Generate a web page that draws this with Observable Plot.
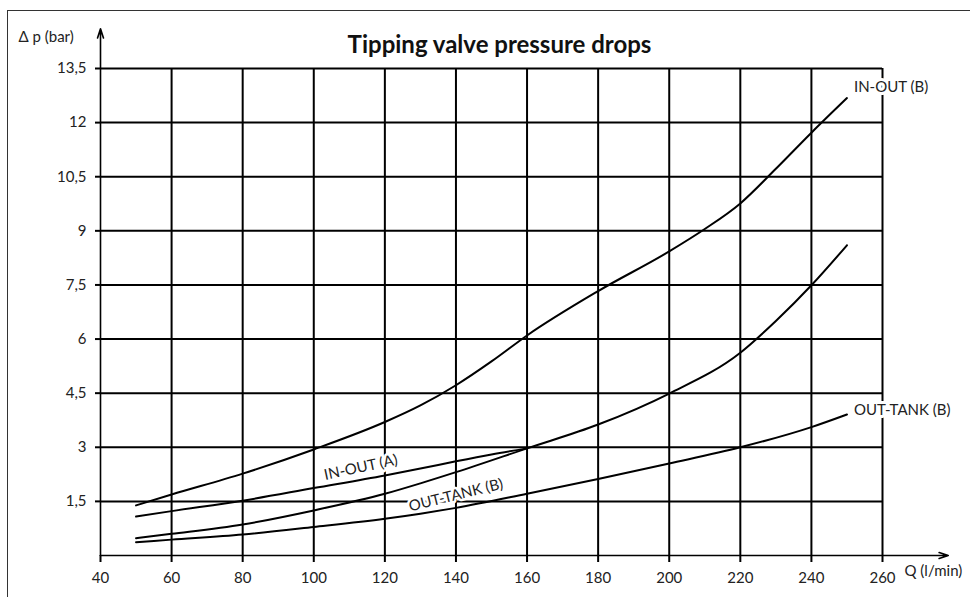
<!DOCTYPE html>
<html>
<head>
<meta charset="utf-8">
<script src="https://cdn.jsdelivr.net/npm/d3@7"></script>
<script src="https://cdn.jsdelivr.net/npm/@observablehq/plot@0.6"></script>
<style>
  html, body { margin: 0; padding: 0; background: white; }
  #wrap { position: relative; width: 970px; height: 597px; overflow: hidden; }
  #border { position: absolute; left: 7px; top: 10px; right: -10px; bottom: -10px;
            border-top: 1.5px solid #333; border-left: 1.5px solid #333; pointer-events: none; }
</style>
</head>
<body>
<div id="wrap"></div>
<script>
// ---- Data ----
const titleText = "Tipping valve pressure drops";
const yAxisLabel = "\u0394 p (bar)";
const xAxisLabel = "Q (l/min)";

const xTicks = [40, 60, 80, 100, 120, 140, 160, 180, 200, 220, 240, 260];
const yTicks = [1.5, 3, 4.5, 6, 7.5, 9, 10.5, 12, 13.5];

// IN-OUT (B)
const inOutB_q  = [50, 60, 80, 100, 120, 130, 140, 150, 160, 180, 200, 210, 220, 230, 240, 250];
const inOutB_dp = [1.39, 1.69, 2.27, 2.94, 3.70, 4.16, 4.72, 5.38, 6.1, 7.33, 8.43, 9.05, 9.76, 10.72, 11.72, 12.68];

// IN-OUT (A)
const inOutA_q  = [50, 60, 80, 100, 120, 130, 140, 150, 160];
const inOutA_dp = [1.08, 1.23, 1.52, 1.87, 2.22, 2.41, 2.61, 2.8, 2.97];

// OUT-TANK (B) - middle curve
const outTankMid_q  = [50, 60, 80, 100, 120, 130, 140, 160, 180, 200, 220, 230, 240, 250];
const outTankMid_dp = [0.48, 0.6, 0.86, 1.25, 1.71, 2.0, 2.31, 2.97, 3.63, 4.49, 5.62, 6.5, 7.49, 8.6];

// OUT-TANK (B) - lowest curve
const outTankLow_q  = [50, 60, 80, 100, 120, 130, 140, 160, 180, 200, 220, 240, 250];
const outTankLow_dp = [0.37, 0.44, 0.58, 0.79, 1.02, 1.16, 1.32, 1.71, 2.12, 2.55, 3.0, 3.56, 3.91];

// Axis arrows extents (decoration)
const xAxisEnd = 278.5;
const yAxisEnd = 14.6;

// ---- Build tables ----
function zip(name, qs, dps) { return qs.map((q, i) => ({series: name, q, dp: dps[i]})); }
const sInOutB = zip("IN-OUT (B)", inOutB_q, inOutB_dp);
const sInOutA = zip("IN-OUT (A)", inOutA_q, inOutA_dp);
const sOutMid = zip("OUT-TANK (B) mid", outTankMid_q, outTankMid_dp);
const sOutLow = zip("OUT-TANK (B)", outTankLow_q, outTankLow_dp);
const allData = [...sInOutB, ...sInOutA, ...sOutMid, ...sOutLow];

// label anchors taken from the series
const labelB = {...sInOutB[sInOutB.length - 1], text: "IN-OUT (B)"};
const labelLow = {...sOutLow[sOutLow.length - 1], text: "OUT-TANK (B)"};
const labelA = {...sInOutA.find(d => d.q === 120), text: "IN-OUT (A)"};
const labelMid = {...sOutMid.find(d => d.q === 140), text: "OUT-TANK (B)"};

const ink = "#000";
const txt = "#222";
const fs = 15;

const chart = Plot.plot({
  width: 970,
  height: 597,
  marginLeft: 100,
  marginRight: 88,
  marginTop: 68,
  marginBottom: 42,
  style: {fontFamily: "Lato, 'Open Sans', sans-serif", fontSize: fs + "px", color: txt, background: "white"},
  x: {domain: [40, 260]},
  y: {domain: [0, 13.5]},
  marks: [
    Plot.gridX({ticks: xTicks.slice(1), stroke: ink, strokeOpacity: 1, strokeWidth: 2}),
    Plot.gridY({ticks: yTicks, stroke: ink, strokeOpacity: 1, strokeWidth: 2}),
    Plot.axisX({ticks: xTicks, tickSize: 7, tickPadding: 10, tickFormat: d => String(d),
                stroke: ink, strokeWidth: 2, fill: txt, fontSize: fs, label: null}),
    Plot.axisY({ticks: yTicks, tickSize: 5, tickPadding: 9, tickFormat: d => String(d).replace(".", ","),
                stroke: ink, strokeWidth: 2, fill: txt, fontSize: fs, label: null}),
    Plot.arrow([{x1: 40, y1: 0, x2: xAxisEnd, y2: 0}, {x1: 40, y1: 0, x2: 40, y2: yAxisEnd}],
      {x1: "x1", y1: "y1", x2: "x2", y2: "y2", stroke: ink, strokeWidth: 1.6, headLength: 9, headAngle: 36, clip: false}),
    Plot.line(allData, {x: "q", y: "dp", z: "series", curve: "monotone-x", stroke: ink, strokeWidth: 2}),
    Plot.text([labelB], {x: "q", y: "dp", text: "text", textAnchor: "start", dx: 7, dy: -11,
      fill: txt, fontSize: fs, stroke: "white", strokeWidth: 6}),
    Plot.text([labelLow], {x: "q", y: "dp", text: "text", textAnchor: "start", dx: 7, dy: -4,
      fill: txt, fontSize: fs, stroke: "white", strokeWidth: 6}),
    Plot.text([labelA], {x: "q", y: "dp", text: "text", dx: -24, dy: -8, rotate: -12,
      fill: txt, fontSize: fs, stroke: "white", strokeWidth: 5}),
    Plot.text([labelMid], {x: "q", y: "dp", text: "text", dx: 0, dy: 23, rotate: -14,
      fill: txt, fontSize: fs, stroke: "white", strokeWidth: 5}),
    Plot.text([titleText], {frameAnchor: "top", dx: 8, dy: -33, fontSize: 24, fontWeight: "bold", fill: "#111"}),
    Plot.text([yAxisLabel], {frameAnchor: "top-left", textAnchor: "start", dx: -82, dy: -37, fontSize: fs, fill: txt}),
    Plot.text([xAxisLabel], {frameAnchor: "bottom-right", textAnchor: "start", dx: 22, dy: 20, fontSize: fs, fill: txt})
  ]
});

const wrap = document.getElementById("wrap");
wrap.appendChild(chart);
const border = document.createElement("div");
border.id = "border";
wrap.appendChild(border);
</script>
</body>
</html>
